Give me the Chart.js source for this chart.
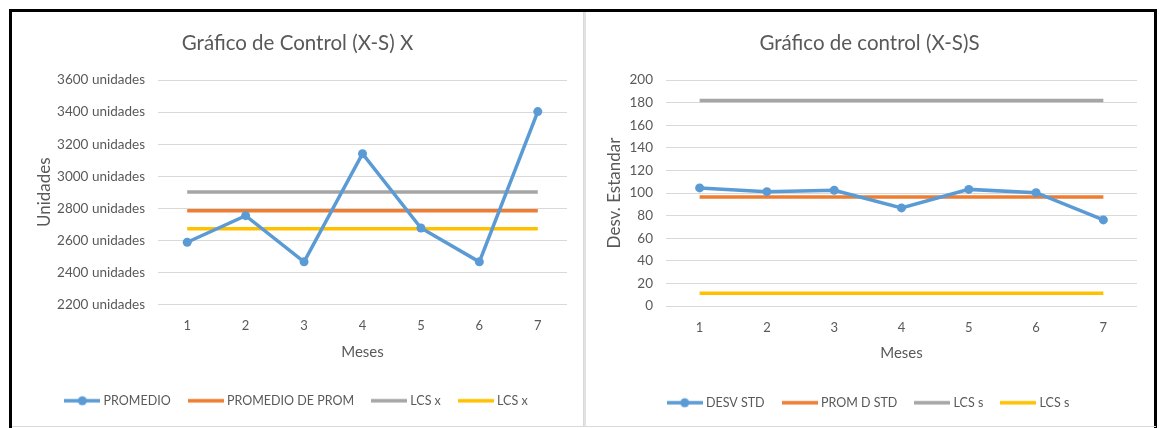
<!DOCTYPE html>
<html>
<head>
<meta charset="utf-8">
<script src="https://cdn.jsdelivr.net/npm/chart.js@4/dist/chart.umd.min.js"></script>
<style>
  html, body { margin: 0; padding: 0; background: #fff; }
  body { width: 1162px; height: 428px; overflow: hidden; position: relative; }
  #frame {
    position: absolute; left: 9px; top: 9px; width: 1142px; height: 440px;
    border: 3px solid #000; background: #fff;
  }
  .panel { position: absolute; top: 12px; height: 414px; border: 1px solid #d9d9d9; border-top: none; }
  #panelL { left: 12px; width: 571px; border-left: none; }
  #panelR { left: 584px; width: 570px; border-right: none; border-left: 2px solid #e2e2e2; }
  canvas { position: absolute; }
  #chartL { left: 12px; top: 12px; }
  #chartR { left: 586px; top: 12px; }
</style>
</head>
<body>
<div id="frame"></div>
<div id="panelL" class="panel"></div>
<div id="panelR" class="panel"></div>
<canvas id="chartL" width="571" height="416"></canvas>
<canvas id="chartR" width="567" height="416"></canvas>
<script>
// Months on the x axis
const meses = ['1', '2', '3', '4', '5', '6', '7'];

// X chart (averages)
const promedio       = [2588, 2754, 2466, 3140, 2677, 2466, 3403];
const promedioDeProm = [2785, 2785, 2785, 2785, 2785, 2785, 2785];
const lcsXSup        = [2901, 2901, 2901, 2901, 2901, 2901, 2901];
const lcsXInf        = [2673, 2673, 2673, 2673, 2673, 2673, 2673];
const ticksX = { min: 2200, max: 3600, step: 200, suffix: ' unidades' };

// S chart (standard deviations)
const desvStd  = [104.5, 101.2, 102.4, 86.8, 103.2, 100.3, 76.2];
const promDStd = [96.4, 96.4, 96.4, 96.4, 96.4, 96.4, 96.4];
const lcsSSup  = [181.8, 181.8, 181.8, 181.8, 181.8, 181.8, 181.8];
const lcsSInf  = [11.2, 11.2, 11.2, 11.2, 11.2, 11.2, 11.2];
const ticksS = { min: 0, max: 200, step: 20, suffix: '' };

const FONT = 'Lato, "Open Sans", sans-serif';
const TEXT = '#595959';
const GRID = '#d9d9d9';
const BLUE = '#5b9bd5', ORANGE = '#ed7d31', GRAY = '#a5a5a5', GOLD = '#ffc000';

Chart.defaults.font.family = FONT;
Chart.defaults.color = TEXT;

// Legend swatch: a short line, optionally with a round marker
function swatch(color, marker) {
  const c = document.createElement('canvas');
  c.width = 36; c.height = 12;
  const g = c.getContext('2d');
  g.strokeStyle = color; g.lineWidth = 3.5; g.lineCap = 'butt';
  g.beginPath(); g.moveTo(0, 6); g.lineTo(36, 6); g.stroke();
  if (marker) {
    g.fillStyle = color;
    g.beginPath(); g.arc(18, 6, 4.5, 0, Math.PI * 2); g.fill();
  }
  return c;
}

function lineSet(label, data, color, withPoints) {
  return {
    label, data,
    borderColor: color, backgroundColor: color,
    borderWidth: 3.5,
    pointRadius: withPoints ? 4.5 : 0,
    pointHoverRadius: withPoints ? 4.5 : 0,
    pointBorderWidth: 0,
    tension: 0, fill: false
  };
}

function makeChart(id, cfg) {
  const icons = [swatch(BLUE, true), swatch(ORANGE), swatch(GRAY), swatch(GOLD)];
  return new Chart(document.getElementById(id), {
    type: 'line',
    data: {
      labels: meses,
      datasets: [
        lineSet(cfg.names[0], cfg.series[0], BLUE, true),
        lineSet(cfg.names[1], cfg.series[1], ORANGE),
        lineSet(cfg.names[2], cfg.series[2], GRAY),
        lineSet(cfg.names[3], cfg.series[3], GOLD)
      ]
    },
    options: {
      responsive: false,
      animation: false,
      events: [],
      layout: { padding: { left: 16, right: 16, top: 0, bottom: cfg.padBottom } },
      plugins: {
        tooltip: { enabled: false },
        title: {
          display: true, text: cfg.title, color: TEXT,
          font: { size: 20.5, weight: 'normal', family: FONT },
          padding: { top: 18.7, bottom: 24.7 }
        },
        legend: {
          position: 'bottom',
          labels: {
            usePointStyle: true,
            pointStyleWidth: 30,
            padding: 20,
            color: TEXT,
            font: { size: 12.5, family: FONT },
            generateLabels(chart) {
              const items = Chart.defaults.plugins.legend.labels.generateLabels(chart);
              items.forEach((it, i) => { it.pointStyle = icons[i]; });
              return items;
            }
          }
        }
      },
      scales: {
        x: {
          offset: true,
          grid: { display: false, drawTicks: false },
          border: { display: false },
          ticks: { padding: cfg.xTickPad, color: TEXT, font: { size: 13, family: FONT } },
          title: { display: true, text: 'Meses', color: TEXT,
                   font: { size: 15, family: FONT }, padding: { top: 0, bottom: cfg.xTitlePad } },
          afterFit(s) { s.height = cfg.xHeight; }
        },
        y: {
          min: cfg.ticks.min, max: cfg.ticks.max,
          grid: { color: GRID, lineWidth: 1, drawTicks: false },
          border: { display: false },
          ticks: {
            stepSize: cfg.ticks.step, padding: 13, color: TEXT,
            font: { size: 13.5, family: FONT },
            callback: v => v + cfg.ticks.suffix
          },
          title: { display: true, text: cfg.yTitle, color: TEXT,
                   font: { size: 17, family: FONT }, padding: { top: cfg.yTitlePad, bottom: 0 } },
          afterFit(s) { s.width = cfg.yWidth; }
        }
      }
    }
  });
}

makeChart('chartL', {
  title: 'Gráfico de Control (X-S) X',
  names: ['PROMEDIO', 'PROMEDIO DE PROM', 'LCS x', 'LCS x'],
  series: [promedio, promedioDeProm, lcsXSup, lcsXInf],
  ticks: ticksX, yTitle: 'Unidades',
  yWidth: 130, yTitlePad: 6.8,
  xHeight: 70, xTickPad: 14, xTitlePad: 13.2,
  padBottom: 11
});

makeChart('chartR', {
  title: 'Gráfico de control (X-S)S',
  names: ['DESV STD', 'PROM D STD', 'LCS s', 'LCS s'],
  series: [desvStd, promDStd, lcsSSup, lcsSInf],
  ticks: ticksS, yTitle: 'Desv. Estandar',
  yWidth: 64, yTitlePad: 2.8,
  xHeight: 70.5, xTickPad: 13.7, xTitlePad: 14.2,
  padBottom: 9
});
</script>
</body>
</html>
